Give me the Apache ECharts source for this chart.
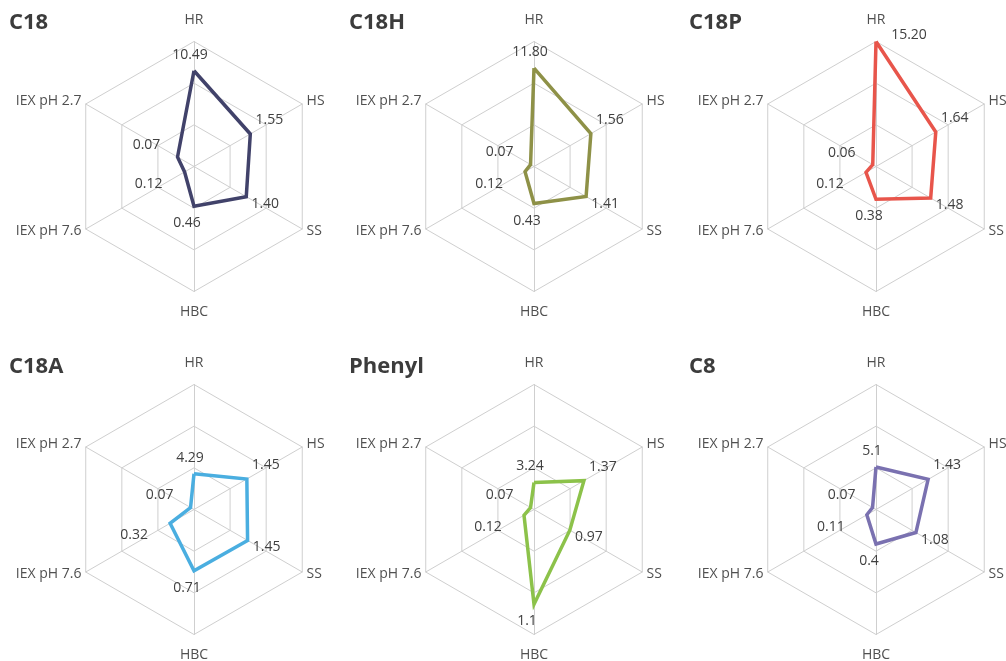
<!DOCTYPE html>
<html>
<head>
<meta charset="utf-8">
<title>Column selectivity profiles</title>
<script src="https://cdn.jsdelivr.net/npm/echarts@6/dist/echarts.min.js"></script>
<style>
  html, body { margin: 0; padding: 0; background: #ffffff; }
  #chart { width: 1006px; height: 661px; }
</style>
</head>
<body>
<div id="chart"></div>
<script>
// Spokes, listed in drawing order (first at the top, then counter-clockwise)
const categories = ['HR', 'IEX pH 2.7', 'IEX pH 7.6', 'HBC', 'SS', 'HS'];

// Stationary phases, one small chart each
const columnNames = ['C18', 'C18H', 'C18P', 'C18A', 'Phenyl', 'C8'];

// Measured selectivity values, same order as categories
const c18Values    = [10.49, 0.07, 0.12, 0.46, 1.40, 1.55];
const c18hValues   = [11.80, 0.07, 0.12, 0.43, 1.41, 1.56];
const c18pValues   = [15.20, 0.06, 0.12, 0.38, 1.48, 1.64];
const c18aValues   = [4.29, 0.07, 0.32, 0.71, 1.45, 1.45];
const phenylValues = [3.24, 0.07, 0.12, 1.10, 0.97, 1.37];
const c8Values     = [5.1, 0.07, 0.11, 0.40, 1.08, 1.43];

// Full-scale value of each spoke on each chart
const c18Max    = [13.7, 0.46, 1.38, 1.45, 2.90, 2.98];
const c18hMax   = [15.0, 2.2, 1.45, 1.45, 2.93, 2.97];
const c18pMax   = [15.2, 2.0, 1.30, 1.45, 2.93, 2.97];
const c18aMax   = [15.0, 2.2, 1.45, 1.45, 2.93, 2.97];
const phenylMax = [15.0, 2.2, 1.30, 1.45, 2.93, 2.97];
const c8Max     = [15.0, 2.2, 1.30, 1.45, 2.93, 2.97];

// Digits shown in the value labels (null = as written)
const labelDecimals = [2, 2, 2, null, null, null];

const seriesValues = [c18Values, c18hValues, c18pValues, c18aValues, phenylValues, c8Values];
const seriesMax = [c18Max, c18hMax, c18pMax, c18aMax, phenylMax, c8Max];
const lineColors = ['#41426a', '#8e9147', '#e8554b', '#4aaee0', '#8cc24a', '#7a71b0'];

// Layout of the 3 x 2 grid
const centersX = [194, 534, 876];
const centersY = [166.5, 509.5];
const titleLeft = [9, 349, 689];
const titleTop = [12, 356];
const RADIUS = 125;

// Where each value label sits relative to its vertex (per spoke)
const labelShift = [[-4, -16], [-31, -12], [-36, 12], [-7, 17], [19, 7], [19, -14]];
const labelShiftOverride = { 2: { 0: [33, -6] } };

const FONT = '"Open Sans", "DejaVu Sans", sans-serif';
const NAME_COLOR = '#505050';

const radars = [];
const series = [];
const titles = [];

columnNames.forEach(function (name, k) {
  const col = k % 3;
  const row = Math.floor(k / 3);
  const values = seriesValues[k];
  const decimals = labelDecimals[k];

  titles.push({
    text: name,
    left: titleLeft[col],
    top: titleTop[row],
    padding: 0,
    textStyle: { fontFamily: FONT, fontSize: 22, fontWeight: 'bold', color: '#3c3c3c' }
  });

  radars.push({
    center: [centersX[col], centersY[row]],
    radius: RADIUS,
    startAngle: 90,
    splitNumber: 3,
    shape: 'polygon',
    nameGap: 5,
    indicator: categories.map(function (c, i) {
      return { name: c, min: 0, max: seriesMax[k][i] };
    }),
    axisName: {
      color: NAME_COLOR,
      fontFamily: FONT,
      fontSize: 14,
      formatter: function (n) {
        if (n === 'HR') return '{up|' + n + '}';
        if (n === 'HBC') return '{down|' + n + '}';
        return n;
      },
      rich: {
        up: { color: NAME_COLOR, fontFamily: FONT, fontSize: 14, padding: [0, 0, 9, 0] },
        down: { color: NAME_COLOR, fontFamily: FONT, fontSize: 14, padding: [9, 0, 0, 0] }
      }
    },
    splitLine: { lineStyle: { color: '#cfcfcf', width: 1 } },
    splitArea: { show: false },
    axisLine: { lineStyle: { color: '#cfcfcf', width: 1 } },
    axisTick: { show: false },
    axisLabel: { show: false }
  });

  // The outline itself
  const data = [{
    value: values,
    symbol: 'none',
    lineStyle: { color: lineColors[k], width: 3.5, join: 'miter' },
    itemStyle: { color: lineColors[k] },
    label: { show: false }
  }];

  // One transparent copy per spoke carries that spoke's value label
  categories.forEach(function (c, j) {
    const shift = (labelShiftOverride[k] && labelShiftOverride[k][j]) || labelShift[j];
    data.push({
      value: values,
      symbol: 'circle',
      symbolSize: 2,
      itemStyle: { color: 'rgba(0,0,0,0)' },
      lineStyle: { opacity: 0, width: 0 },
      label: {
        show: true,
        position: 'inside',
        offset: shift,
        color: '#404040',
        fontFamily: FONT,
        fontSize: 14,
        formatter: function (p) {
          if (p.dimensionIndex !== j) return '';
          return decimals == null ? String(p.value) : Number(p.value).toFixed(decimals);
        }
      }
    });
  });

  series.push({
    type: 'radar',
    radarIndex: k,
    silent: true,
    animation: false,
    emphasis: { disabled: true },
    data: data
  });
});

const chart = echarts.init(document.getElementById('chart'), null, { renderer: 'canvas' });
chart.setOption({
  backgroundColor: '#ffffff',
  animation: false,
  title: titles,
  radar: radars,
  series: series
});
</script>
</body>
</html>
